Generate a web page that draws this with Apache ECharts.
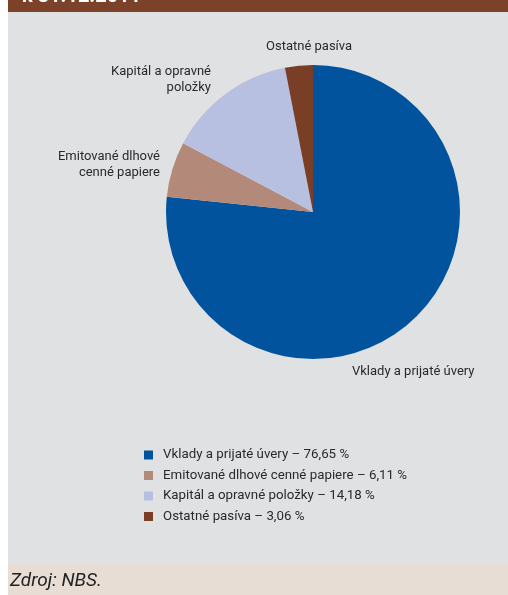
<!DOCTYPE html>
<html><head><meta charset="utf-8">
<script src="https://cdn.jsdelivr.net/npm/echarts@6/dist/echarts.min.js"></script>
<style>html,body{margin:0;padding:0;background:#fff}#c{width:508px;height:595px}</style>
</head><body><div id="c"></div>
<script>
const categories = ['Vklady a prijaté úvery', 'Emitované dlhové cenné papiere', 'Kapitál a opravné položky', 'Ostatné pasíva'];
const labelTexts = ['Vklady a prijaté úvery', 'Emitované dlhové\ncenné papiere', 'Kapitál a opravné\npoložky', 'Ostatné pasíva'];
const values = [76.65, 6.11, 14.18, 3.06];
const colors = ['#00539c', '#b38a79', '#b7c0e0', '#7a3e27'];
const headerText = 'k 31.12.2011';
const sourceText = 'Zdroj: NBS.';

const FONT = 'Roboto';
const labelPos = [
  {x: 352, y: 372, align: 'left'},
  {x: 160, y: 165, align: 'right'},
  {x: 211, y: 80, align: 'right'},
  {x: 266, y: 47, align: 'left'}
];
const fmt = v => v.toFixed(2).replace('.', ',');

const chart = echarts.init(document.getElementById('c'), null, {renderer: 'canvas'});
chart.setOption({
  backgroundColor: '#ffffff',
  animation: false,
  graphic: [
    {type: 'rect', shape: {x: 8, y: 0, width: 500, height: 12}, style: {fill: '#7b4129'}, z: 0},
    {type: 'rect', shape: {x: 8, y: 12, width: 500, height: 552}, style: {fill: '#e0e1e3'}, z: 0},
    {type: 'rect', shape: {x: 8, y: 564, width: 500, height: 31}, style: {fill: '#e8ddd4'}, z: 0},
    {type: 'text', x: 22, y: -3, style: {text: headerText, fill: '#ffffff', font: 'bold 20px ' + FONT, textVerticalAlign: 'middle'}, z: 1},
    {type: 'text', x: 10, y: 581, style: {text: sourceText, fill: '#222222', font: 'italic 19px ' + FONT, textVerticalAlign: 'middle'}, z: 1}
  ],
  legend: {
    orient: 'vertical',
    left: 139,
    top: 442,
    itemWidth: 9,
    itemHeight: 9,
    itemGap: 4.5,
    icon: 'rect',
    textStyle: {fontFamily: FONT, fontSize: 13.3, color: '#2a2a2a', lineHeight: 16, padding: [0, 0, 0, 5]},
    formatter: name => name + ' – ' + fmt(values[categories.indexOf(name)]) + ' %',
    data: categories
  },
  series: [{
    type: 'pie',
    z: 2,
    center: [313, 212],
    radius: [0, 147],
    startAngle: 90,
    clockwise: true,
    color: colors,
    silent: true,
    data: categories.map((c, i) => ({name: c, value: values[i]})),
    label: {
      show: true,
      position: 'outside',
      overflow: 'none',
      formatter: p => labelTexts[p.dataIndex],
      fontFamily: FONT,
      fontSize: 13,
      color: '#2a2a2a',
      lineHeight: 16
    },
    labelLine: {show: false},
    labelLayout: p => ({
      x: labelPos[p.dataIndex].x,
      y: labelPos[p.dataIndex].y,
      align: labelPos[p.dataIndex].align,
      verticalAlign: 'middle'
    })
  }]
});
</script></body></html>
